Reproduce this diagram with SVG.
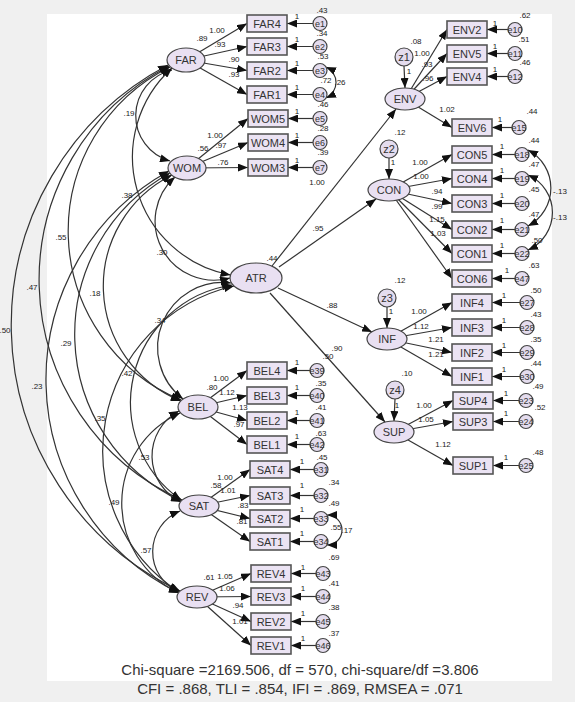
<svg xmlns="http://www.w3.org/2000/svg" width="575" height="702" viewBox="0 0 575 702">
<style>
.c{stroke:#333;stroke-width:1.2;fill:none}
.a{marker-end:url(#ah)}
.v{marker-start:url(#ah);marker-end:url(#ah)}
.ind rect{fill:#ebe3f3;stroke:#555;stroke-width:1.6}
.lat ellipse{fill:#e9e0f2;stroke:#444;stroke-width:1.2}
.err circle{fill:#e4dcee;stroke:#444;stroke-width:1.2}
text{font-family:"Liberation Sans",Arial,sans-serif;text-anchor:middle;fill:#333}
.t{font-size:11px}
.e{font-size:9px}
.n{font-size:8px;fill:#222}
.f{font-size:15px;fill:#333}
</style>
<defs>
<marker id="ah" markerWidth="10" markerHeight="8" refX="10" refY="4" orient="auto-start-reverse" markerUnits="userSpaceOnUse"><path d="M0,0 L10,4 L0,8 z" fill="#111"/></marker>
</defs>
<rect x="0" y="0" width="575" height="702" fill="#f0f0f0"/>
<rect x="47" y="14" width="505" height="667" fill="#ffffff"/>
<g id="connectors">
<path class="c v" d="M172,70 A47,47 0 0 0 170,161"/>
<path class="c v" d="M172,68 A120,120 0 0 0 230.5,275"/>
<path class="c v" d="M170,67 A183,183 0 0 0 181,400"/>
<path class="c v" d="M169,66 A241,241 0 0 0 182,500"/>
<path class="c v" d="M168,65 A294,294 0 0 0 180,591"/>
<path class="c v" d="M175,177 A59,59 0 0 0 230,278"/>
<path class="c v" d="M172,175 A124,124 0 0 0 181,401"/>
<path class="c v" d="M170,173 A184,184 0 0 0 181,501"/>
<path class="c v" d="M169,171 A238,238 0 0 0 179,593"/>
<path class="c v" d="M231,283 A65,65 0 0 0 183,399"/>
<path class="c v" d="M232,285 A119,119 0 0 0 181,500"/>
<path class="c v" d="M234,286 A169,169 0 0 0 179,592"/>
<path class="c v" d="M179,411 A51,51 0 0 0 181,502"/>
<path class="c v" d="M180,413 A99,99 0 0 0 179,593"/>
<path class="c v" d="M180,511 A44,44 0 0 0 179,592"/>
<path class="c v" d="M326,67 A17,17 0 0 1 326,98"/>
<path class="c v" d="M528,150 A43,43 0 0 1 528,226"/>
<path class="c v" d="M528,175 A41,41 0 0 1 528,250"/>
<path class="c v" d="M327,515 A15,15 0 0 1 327,545"/>
<path class="c a" d="M272,266 L396,109"/>
<path class="c a" d="M279,267 L376,199"/>
<path class="c a" d="M278,288 L372,332"/>
<path class="c a" d="M270,293 L385,422"/>
<path class="c a" d="M404,66 L405,88"/>
<path class="c a" d="M389,158 L389,179"/>
<path class="c a" d="M387,307 L387,328"/>
<path class="c a" d="M395,399 L394,421"/>
<path class="c a" d="M186,60 L247,23.5"/>
<path class="c a" d="M186,60 L247,46.5"/>
<path class="c a" d="M186,60 L247,70.5"/>
<path class="c a" d="M186,60 L247,94.5"/>
<path class="c a" d="M187,168 L248,118.5"/>
<path class="c a" d="M187,168 L248,142.5"/>
<path class="c a" d="M187,168 L248,167.5"/>
<path class="c a" d="M405,99 L447,29.5"/>
<path class="c a" d="M405,99 L447,53.5"/>
<path class="c a" d="M405,99 L447,76.5"/>
<path class="c a" d="M405,99 L452,127.5"/>
<path class="c a" d="M389,190 L452,154.5"/>
<path class="c a" d="M389,190 L452,178.5"/>
<path class="c a" d="M389,190 L452,203.5"/>
<path class="c a" d="M389,190 L452,229.5"/>
<path class="c a" d="M389,190 L452,253.5"/>
<path class="c a" d="M389,190 L452,278.5"/>
<path class="c a" d="M387,339 L452,302.5"/>
<path class="c a" d="M387,339 L452,327.5"/>
<path class="c a" d="M387,339 L452,352.5"/>
<path class="c a" d="M387,339 L452,376.5"/>
<path class="c a" d="M394,432 L453,400.5"/>
<path class="c a" d="M394,432 L453,421.5"/>
<path class="c a" d="M394,432 L453,465.5"/>
<path class="c a" d="M198,407 L247,370.5"/>
<path class="c a" d="M198,407 L247,395.5"/>
<path class="c a" d="M198,407 L247,420.5"/>
<path class="c a" d="M198,407 L247,444.5"/>
<path class="c a" d="M199,506 L250,469.5"/>
<path class="c a" d="M199,506 L250,495.5"/>
<path class="c a" d="M199,506 L250,518.5"/>
<path class="c a" d="M199,506 L250,541.5"/>
<path class="c a" d="M197,597 L251,573.5"/>
<path class="c a" d="M197,597 L251,596.5"/>
<path class="c a" d="M197,597 L251,621.5"/>
<path class="c a" d="M197,597 L251,645.5"/>
<path class="c a" d="M320,23.5 L287,23.5"/>
<path class="c a" d="M320,46.5 L287,46.5"/>
<path class="c a" d="M320,70.5 L287,70.5"/>
<path class="c a" d="M320,94.5 L287,94.5"/>
<path class="c a" d="M320,118.5 L288,118.5"/>
<path class="c a" d="M320,142.5 L288,142.5"/>
<path class="c a" d="M320,167.5 L288,167.5"/>
<path class="c a" d="M515,29.5 L487,29.5"/>
<path class="c a" d="M515,53.5 L487,53.5"/>
<path class="c a" d="M515,76.5 L487,76.5"/>
<path class="c a" d="M519,127.5 L492,127.5"/>
<path class="c a" d="M522,154.5 L492,154.5"/>
<path class="c a" d="M522,178.5 L492,178.5"/>
<path class="c a" d="M522,203.5 L492,203.5"/>
<path class="c a" d="M522,229.5 L492,229.5"/>
<path class="c a" d="M522,253.5 L492,253.5"/>
<path class="c a" d="M522,278.5 L492,278.5"/>
<path class="c a" d="M527,302.5 L492,302.5"/>
<path class="c a" d="M527,327.5 L492,327.5"/>
<path class="c a" d="M527,352.5 L492,352.5"/>
<path class="c a" d="M527,376.5 L492,376.5"/>
<path class="c a" d="M526,400.5 L493,400.5"/>
<path class="c a" d="M526,421.5 L493,421.5"/>
<path class="c a" d="M526,465.5 L493,465.5"/>
<path class="c a" d="M317,370.5 L287,370.5"/>
<path class="c a" d="M317,395.5 L287,395.5"/>
<path class="c a" d="M317,420.5 L287,420.5"/>
<path class="c a" d="M317,444.5 L287,444.5"/>
<path class="c a" d="M321,469.5 L290,469.5"/>
<path class="c a" d="M321,495.5 L290,495.5"/>
<path class="c a" d="M321,518.5 L290,518.5"/>
<path class="c a" d="M321,541.5 L290,541.5"/>
<path class="c a" d="M323,573.5 L291,573.5"/>
<path class="c a" d="M323,596.5 L291,596.5"/>
<path class="c a" d="M323,621.5 L291,621.5"/>
<path class="c a" d="M323,645.5 L291,645.5"/>
</g>
<g id="FAR" class="lat"><ellipse cx="186" cy="60" rx="19" ry="12"/><text class="t" x="186" y="64">FAR</text></g>
<g id="WOM" class="lat"><ellipse cx="187" cy="168" rx="19" ry="12"/><text class="t" x="187" y="172">WOM</text></g>
<g id="ATR" class="lat"><ellipse cx="256" cy="278" rx="26" ry="15"/><text class="t" x="256" y="282">ATR</text></g>
<g id="ENV" class="lat"><ellipse cx="405" cy="99" rx="20" ry="11"/><text class="t" x="405" y="103">ENV</text></g>
<g id="CON" class="lat"><ellipse cx="389" cy="190" rx="21" ry="11"/><text class="t" x="389" y="194">CON</text></g>
<g id="INF" class="lat"><ellipse cx="387" cy="339" rx="20" ry="11"/><text class="t" x="387" y="343">INF</text></g>
<g id="SUP" class="lat"><ellipse cx="394" cy="432" rx="20" ry="11"/><text class="t" x="394" y="436">SUP</text></g>
<g id="BEL" class="lat"><ellipse cx="198" cy="407" rx="20" ry="12"/><text class="t" x="198" y="411">BEL</text></g>
<g id="SAT" class="lat"><ellipse cx="199" cy="506" rx="20" ry="11"/><text class="t" x="199" y="510">SAT</text></g>
<g id="REV" class="lat"><ellipse cx="197" cy="597" rx="20" ry="11"/><text class="t" x="197" y="601">REV</text></g>
<g id="z1" class="err"><circle cx="404" cy="57" r="9"/><text class="t" x="404" y="61">z1</text></g>
<g id="z2" class="err"><circle cx="389" cy="149" r="9"/><text class="t" x="389" y="153">z2</text></g>
<g id="z3" class="err"><circle cx="387" cy="298" r="9"/><text class="t" x="387" y="302">z3</text></g>
<g id="z4" class="err"><circle cx="395" cy="390" r="9"/><text class="t" x="395" y="394">z4</text></g>
<g id="FAR4" class="ind"><rect x="247" y="15" width="40" height="17"/><text class="t" x="267" y="27.5">FAR4</text></g>
<g id="FAR3" class="ind"><rect x="247" y="38" width="40" height="17"/><text class="t" x="267" y="50.5">FAR3</text></g>
<g id="FAR2" class="ind"><rect x="247" y="62" width="40" height="17"/><text class="t" x="267" y="74.5">FAR2</text></g>
<g id="FAR1" class="ind"><rect x="247" y="86" width="40" height="17"/><text class="t" x="267" y="98.5">FAR1</text></g>
<g id="WOM5" class="ind"><rect x="248" y="110" width="40" height="17"/><text class="t" x="268" y="122.5">WOM5</text></g>
<g id="WOM4" class="ind"><rect x="248" y="134" width="40" height="17"/><text class="t" x="268" y="146.5">WOM4</text></g>
<g id="WOM3" class="ind"><rect x="248" y="159" width="40" height="17"/><text class="t" x="268" y="171.5">WOM3</text></g>
<g id="ENV2" class="ind"><rect x="447" y="21" width="40" height="17"/><text class="t" x="467" y="33.5">ENV2</text></g>
<g id="ENV5" class="ind"><rect x="447" y="45" width="40" height="17"/><text class="t" x="467" y="57.5">ENV5</text></g>
<g id="ENV4" class="ind"><rect x="447" y="68" width="40" height="17"/><text class="t" x="467" y="80.5">ENV4</text></g>
<g id="ENV6" class="ind"><rect x="452" y="119" width="40" height="17"/><text class="t" x="472" y="131.5">ENV6</text></g>
<g id="CON5" class="ind"><rect x="452" y="146" width="40" height="17"/><text class="t" x="472" y="158.5">CON5</text></g>
<g id="CON4" class="ind"><rect x="452" y="170" width="40" height="17"/><text class="t" x="472" y="182.5">CON4</text></g>
<g id="CON3" class="ind"><rect x="452" y="195" width="40" height="17"/><text class="t" x="472" y="207.5">CON3</text></g>
<g id="CON2" class="ind"><rect x="452" y="221" width="40" height="17"/><text class="t" x="472" y="233.5">CON2</text></g>
<g id="CON1" class="ind"><rect x="452" y="245" width="40" height="17"/><text class="t" x="472" y="257.5">CON1</text></g>
<g id="CON6" class="ind"><rect x="452" y="270" width="40" height="17"/><text class="t" x="472" y="282.5">CON6</text></g>
<g id="INF4" class="ind"><rect x="452" y="294" width="40" height="17"/><text class="t" x="472" y="306.5">INF4</text></g>
<g id="INF3" class="ind"><rect x="452" y="319" width="40" height="17"/><text class="t" x="472" y="331.5">INF3</text></g>
<g id="INF2" class="ind"><rect x="452" y="344" width="40" height="17"/><text class="t" x="472" y="356.5">INF2</text></g>
<g id="INF1" class="ind"><rect x="452" y="368" width="40" height="17"/><text class="t" x="472" y="380.5">INF1</text></g>
<g id="SUP4" class="ind"><rect x="453" y="392" width="40" height="17"/><text class="t" x="473" y="404.5">SUP4</text></g>
<g id="SUP3" class="ind"><rect x="453" y="413" width="40" height="17"/><text class="t" x="473" y="425.5">SUP3</text></g>
<g id="SUP1" class="ind"><rect x="453" y="457" width="40" height="17"/><text class="t" x="473" y="469.5">SUP1</text></g>
<g id="BEL4" class="ind"><rect x="247" y="362" width="40" height="17"/><text class="t" x="267" y="374.5">BEL4</text></g>
<g id="BEL3" class="ind"><rect x="247" y="387" width="40" height="17"/><text class="t" x="267" y="399.5">BEL3</text></g>
<g id="BEL2" class="ind"><rect x="247" y="412" width="40" height="17"/><text class="t" x="267" y="424.5">BEL2</text></g>
<g id="BEL1" class="ind"><rect x="247" y="436" width="40" height="17"/><text class="t" x="267" y="448.5">BEL1</text></g>
<g id="SAT4" class="ind"><rect x="250" y="461" width="40" height="17"/><text class="t" x="270" y="473.5">SAT4</text></g>
<g id="SAT3" class="ind"><rect x="250" y="487" width="40" height="17"/><text class="t" x="270" y="499.5">SAT3</text></g>
<g id="SAT2" class="ind"><rect x="250" y="510" width="40" height="17"/><text class="t" x="270" y="522.5">SAT2</text></g>
<g id="SAT1" class="ind"><rect x="250" y="533" width="40" height="17"/><text class="t" x="270" y="545.5">SAT1</text></g>
<g id="REV4" class="ind"><rect x="251" y="565" width="40" height="17"/><text class="t" x="271" y="577.5">REV4</text></g>
<g id="REV3" class="ind"><rect x="251" y="588" width="40" height="17"/><text class="t" x="271" y="600.5">REV3</text></g>
<g id="REV2" class="ind"><rect x="251" y="613" width="40" height="17"/><text class="t" x="271" y="625.5">REV2</text></g>
<g id="REV1" class="ind"><rect x="251" y="637" width="40" height="17"/><text class="t" x="271" y="649.5">REV1</text></g>
<g id="e1" class="err"><circle cx="320" cy="23.5" r="7"/><text class="e" x="320" y="26.5">e1</text></g>
<g id="e2" class="err"><circle cx="320" cy="46.5" r="7"/><text class="e" x="320" y="49.5">e2</text></g>
<g id="e3" class="err"><circle cx="320" cy="70.5" r="7"/><text class="e" x="320" y="73.5">e3</text></g>
<g id="e4" class="err"><circle cx="320" cy="94.5" r="7"/><text class="e" x="320" y="97.5">e4</text></g>
<g id="e5" class="err"><circle cx="320" cy="118.5" r="7"/><text class="e" x="320" y="121.5">e5</text></g>
<g id="e6" class="err"><circle cx="320" cy="142.5" r="7"/><text class="e" x="320" y="145.5">e6</text></g>
<g id="e7" class="err"><circle cx="320" cy="167.5" r="7"/><text class="e" x="320" y="170.5">e7</text></g>
<g id="e10" class="err"><circle cx="515" cy="29.5" r="7"/><text class="e" x="515" y="32.5">e10</text></g>
<g id="e11" class="err"><circle cx="515" cy="53.5" r="7"/><text class="e" x="515" y="56.5">e11</text></g>
<g id="e12" class="err"><circle cx="515" cy="76.5" r="7"/><text class="e" x="515" y="79.5">e12</text></g>
<g id="e15" class="err"><circle cx="519" cy="127.5" r="7"/><text class="e" x="519" y="130.5">e15</text></g>
<g id="e18" class="err"><circle cx="522" cy="154.5" r="7"/><text class="e" x="522" y="157.5">e18</text></g>
<g id="e19" class="err"><circle cx="522" cy="178.5" r="7"/><text class="e" x="522" y="181.5">e19</text></g>
<g id="e20" class="err"><circle cx="522" cy="203.5" r="7"/><text class="e" x="522" y="206.5">e20</text></g>
<g id="e21" class="err"><circle cx="522" cy="229.5" r="7"/><text class="e" x="522" y="232.5">e21</text></g>
<g id="e22" class="err"><circle cx="522" cy="253.5" r="7"/><text class="e" x="522" y="256.5">e22</text></g>
<g id="e47" class="err"><circle cx="522" cy="278.5" r="7"/><text class="e" x="522" y="281.5">e47</text></g>
<g id="e27" class="err"><circle cx="527" cy="302.5" r="7"/><text class="e" x="527" y="305.5">e27</text></g>
<g id="e28" class="err"><circle cx="527" cy="327.5" r="7"/><text class="e" x="527" y="330.5">e28</text></g>
<g id="e29" class="err"><circle cx="527" cy="352.5" r="7"/><text class="e" x="527" y="355.5">e29</text></g>
<g id="e30" class="err"><circle cx="527" cy="376.5" r="7"/><text class="e" x="527" y="379.5">e30</text></g>
<g id="e23" class="err"><circle cx="526" cy="400.5" r="7"/><text class="e" x="526" y="403.5">e23</text></g>
<g id="e24" class="err"><circle cx="526" cy="421.5" r="7"/><text class="e" x="526" y="424.5">e24</text></g>
<g id="e25" class="err"><circle cx="526" cy="465.5" r="7"/><text class="e" x="526" y="468.5">e25</text></g>
<g id="e39" class="err"><circle cx="317" cy="370.5" r="7"/><text class="e" x="317" y="373.5">e39</text></g>
<g id="e40" class="err"><circle cx="317" cy="395.5" r="7"/><text class="e" x="317" y="398.5">e40</text></g>
<g id="e41" class="err"><circle cx="317" cy="420.5" r="7"/><text class="e" x="317" y="423.5">e41</text></g>
<g id="e42" class="err"><circle cx="317" cy="444.5" r="7"/><text class="e" x="317" y="447.5">e42</text></g>
<g id="e31" class="err"><circle cx="321" cy="469.5" r="7"/><text class="e" x="321" y="472.5">e31</text></g>
<g id="e32" class="err"><circle cx="321" cy="495.5" r="7"/><text class="e" x="321" y="498.5">e32</text></g>
<g id="e33" class="err"><circle cx="321" cy="518.5" r="7"/><text class="e" x="321" y="521.5">e33</text></g>
<g id="e34" class="err"><circle cx="321" cy="541.5" r="7"/><text class="e" x="321" y="544.5">e34</text></g>
<g id="e43" class="err"><circle cx="323" cy="573.5" r="7"/><text class="e" x="323" y="576.5">e43</text></g>
<g id="e44" class="err"><circle cx="323" cy="596.5" r="7"/><text class="e" x="323" y="599.5">e44</text></g>
<g id="e45" class="err"><circle cx="323" cy="621.5" r="7"/><text class="e" x="323" y="624.5">e45</text></g>
<g id="e46" class="err"><circle cx="323" cy="645.5" r="7"/><text class="e" x="323" y="648.5">e46</text></g>
<g id="labels" class="n">
<text class="n" x="202" y="41">.89</text><text class="n" x="217" y="33">1.00</text><text class="n" x="220" y="47">.93</text><text class="n" x="234" y="62">.90</text><text class="n" x="234" y="77">.93</text>
<text class="n" x="297" y="19">1</text><text class="n" x="297" y="42">1</text><text class="n" x="297" y="66">1</text><text class="n" x="297" y="90">1</text><text class="n" x="297" y="114">1</text><text class="n" x="297" y="138">1</text><text class="n" x="297" y="163">1</text>
<text class="n" x="322" y="13">.43</text><text class="n" x="322" y="36">.34</text><text class="n" x="323" y="59">.53</text><text class="n" x="326" y="83">.72</text><text class="n" x="340" y="85">.26</text><text class="n" x="323" y="107">.46</text><text class="n" x="323" y="131">.28</text><text class="n" x="323" y="155">.39</text>
<text class="n" x="203" y="151">.56</text><text class="n" x="215" y="138">1.00</text><text class="n" x="221" y="148">.97</text><text class="n" x="223" y="165">.76</text>
<text class="n" x="272" y="261">.44</text><text class="n" x="317" y="185">1.00</text><text class="n" x="318" y="231">.95</text><text class="n" x="332" y="308">.88</text><text class="n" x="337" y="351">.90</text>
<text class="n" x="416" y="44">.08</text><text class="n" x="409" y="74">1</text><text class="n" x="422" y="56">1.00</text><text class="n" x="427" y="67">.93</text><text class="n" x="428" y="81">.96</text><text class="n" x="447" y="112">1.02</text>
<text class="n" x="495" y="26">1</text><text class="n" x="495" y="49">1</text><text class="n" x="495" y="72">1</text><text class="n" x="500" y="122">1</text>
<text class="n" x="525" y="18">.62</text><text class="n" x="524" y="42">.51</text><text class="n" x="525" y="65">.46</text><text class="n" x="532" y="114">.44</text>
<text class="n" x="400" y="135">.12</text><text class="n" x="393" y="165">1</text><text class="n" x="420" y="165">1.00</text><text class="n" x="421" y="179">1.00</text><text class="n" x="437" y="194">.94</text><text class="n" x="437" y="209">.99</text><text class="n" x="437" y="222">1.15</text><text class="n" x="438" y="236">1.03</text>
<text class="n" x="502" y="149">1</text><text class="n" x="502" y="173">1</text><text class="n" x="502" y="198">1</text><text class="n" x="502" y="223">1</text><text class="n" x="502" y="248">1</text><text class="n" x="507" y="273">1</text>
<text class="n" x="534" y="143">.44</text><text class="n" x="534" y="167">.47</text><text class="n" x="534" y="192">.45</text><text class="n" x="534" y="217">.47</text><text class="n" x="537" y="243">.50</text><text class="n" x="534" y="268">.63</text>
<text class="n" x="560" y="194">-.13</text><text class="n" x="560" y="220">-.13</text>
<text class="n" x="400" y="283">.12</text><text class="n" x="391" y="314">1</text><text class="n" x="419" y="314">1.00</text><text class="n" x="421" y="329">1.12</text><text class="n" x="436" y="342">1.21</text><text class="n" x="436" y="357">1.21</text>
<text class="n" x="504" y="298">1</text><text class="n" x="504" y="323">1</text><text class="n" x="504" y="348">1</text><text class="n" x="504" y="372">1</text>
<text class="n" x="536" y="293">.50</text><text class="n" x="536" y="317">.43</text><text class="n" x="536" y="342">.35</text><text class="n" x="536" y="366">.44</text>
<text class="n" x="407" y="376">.10</text><text class="n" x="397" y="408">1</text><text class="n" x="424" y="408">1.00</text><text class="n" x="426" y="422">1.05</text><text class="n" x="443" y="447">1.12</text>
<text class="n" x="506" y="396">1</text><text class="n" x="506" y="416">1</text><text class="n" x="506" y="460">1</text>
<text class="n" x="538" y="389">.49</text><text class="n" x="540" y="410">.52</text><text class="n" x="538" y="455">.48</text>
<text class="n" x="212" y="390">.80</text><text class="n" x="221" y="381">1.00</text><text class="n" x="227" y="395">1.12</text><text class="n" x="240" y="410">1.13</text><text class="n" x="239" y="427">.97</text>
<text class="n" x="297" y="365">1</text><text class="n" x="297" y="390">1</text><text class="n" x="297" y="415">1</text><text class="n" x="297" y="439">1</text>
<text class="n" x="328" y="359">.50</text><text class="n" x="321" y="386">.35</text><text class="n" x="321" y="410">.41</text><text class="n" x="321" y="436">.63</text>
<text class="n" x="216" y="488">.58</text><text class="n" x="225" y="480">1.00</text><text class="n" x="228" y="493">1.01</text><text class="n" x="243" y="508">.83</text><text class="n" x="242" y="524">.81</text>
<text class="n" x="302" y="464">1</text><text class="n" x="302" y="488">1</text><text class="n" x="302" y="512">1</text><text class="n" x="302" y="536">1</text>
<text class="n" x="322" y="460">.45</text><text class="n" x="334" y="485">.34</text><text class="n" x="334" y="506">.49</text><text class="n" x="336" y="530">.55</text><text class="n" x="347" y="533">.17</text>
<text class="n" x="209" y="580">.61</text><text class="n" x="225" y="579">1.05</text><text class="n" x="227" y="591">1.06</text><text class="n" x="238" y="608">.94</text><text class="n" x="240" y="624">1.01</text>
<text class="n" x="303" y="570">1</text><text class="n" x="303" y="591">1</text><text class="n" x="303" y="616">1</text><text class="n" x="303" y="641">1</text>
<text class="n" x="334" y="560">.69</text><text class="n" x="334" y="586">.41</text><text class="n" x="334" y="610">.38</text><text class="n" x="334" y="636">.37</text>
<text class="n" x="129" y="116">.19</text><text class="n" x="127" y="198">.38</text><text class="n" x="61" y="240">.55</text><text class="n" x="162" y="255">.30</text><text class="n" x="32" y="290">.47</text><text class="n" x="95" y="296">.18</text><text class="n" x="160" y="323">.34</text><text class="n" x="5" y="333">.50</text><text class="n" x="66" y="346">.29</text><text class="n" x="127" y="376">.42</text><text class="n" x="37" y="389">.23</text><text class="n" x="100" y="421">.35</text><text class="n" x="144" y="460">.53</text><text class="n" x="114" y="505">.49</text><text class="n" x="146" y="553">.57</text>
</g>
<g id="fit">
<text class="f" x="300" y="675">Chi-square =2169.506, df = 570, chi-square/df =3.806</text>
<text class="f" x="300" y="694">CFI = .868, TLI = .854, IFI = .869, RMSEA = .071</text>
</g>
</svg>
